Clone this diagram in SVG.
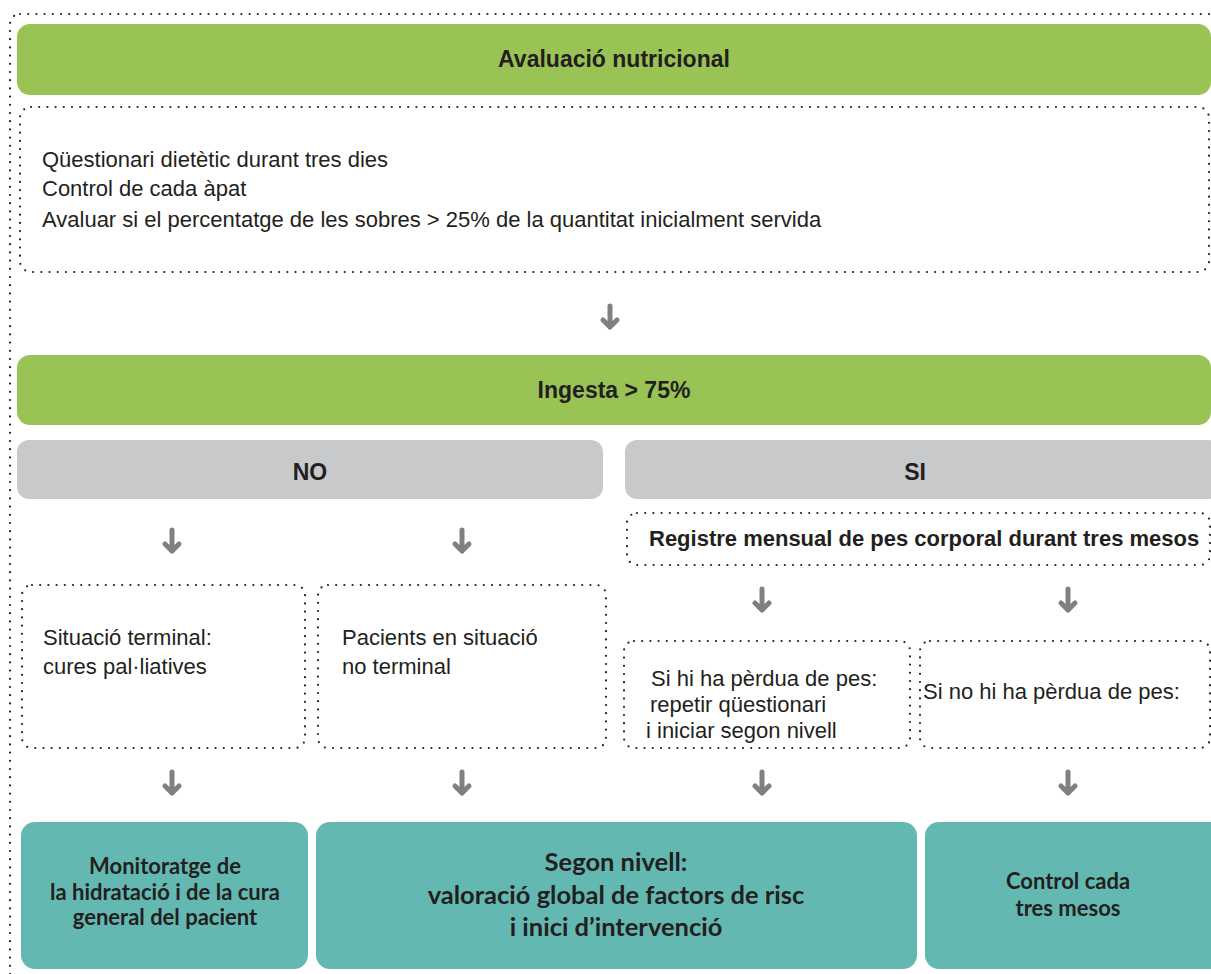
<svg xmlns="http://www.w3.org/2000/svg" width="1211" height="974" viewBox="0 0 1211 974">
<style>
.dot{fill:none;stroke:#231f20;stroke-width:2.2;stroke-dasharray:0 8.2;stroke-linecap:round}
.green{fill:#99c355}
.gray{fill:#c8c9cb}
.teal{fill:#63b8b2}
.t{font-family:"Liberation Sans",Arial,sans-serif;font-size:22px;fill:#231f20}
.b{font-family:"Liberation Sans",Arial,sans-serif;font-size:23px;font-weight:bold;fill:#231f20}
.r{font-family:Lato,"Liberation Sans",sans-serif;font-weight:bold;fill:#231f20;text-anchor:middle}
.arr{fill:none;stroke:#808080;stroke-width:5;stroke-linecap:round;stroke-linejoin:round}
</style>
<defs>
<g id="arrow"><path class="arr" d="M0,-11 V10 M-7,3 L0,10 L7,3"/></g>
</defs>
<rect width="1211" height="974" fill="#fff"/>
<g id="frame"><rect class="dot" x="10" y="14" width="1230" height="1000" rx="10"/></g>

<g id="n-avaluacio">
<rect class="green" x="17" y="24" width="1194" height="71" rx="13"/>
<text class="b" x="614" y="67" text-anchor="middle">Avaluació nutricional</text>
</g>
<g id="n-questionari">
<rect class="dot" x="20" y="107" width="1189" height="165" rx="11"/>
<text class="t" x="42" y="167">Qüestionari dietètic durant tres dies</text>
<text class="t" x="42" y="196">Control de cada àpat</text>
<text class="t" x="42" y="227">Avaluar si el percentatge de les sobres &gt; 25% de la quantitat inicialment servida</text>
</g>
<g id="n-ingesta">
<rect class="green" x="17" y="355" width="1194" height="70" rx="13"/>
<text class="b" x="614" y="398" text-anchor="middle">Ingesta &gt; 75%</text>
</g>
<g id="n-no">
<rect class="gray" x="17" y="440" width="586" height="59" rx="12"/>
<text class="b" x="310" y="480" text-anchor="middle">NO</text>
</g>
<g id="n-si">
<rect class="gray" x="625" y="440" width="596" height="59" rx="12"/>
<text class="b" x="915" y="480" text-anchor="middle">SI</text>
</g>
<g id="n-registre">
<rect class="dot" x="627" y="513" width="583" height="52" rx="10"/>
<text class="b" x="649" y="546" style="font-size:22px">Registre mensual de pes corporal durant tres mesos</text>
</g>
<g id="n-terminal">
<rect class="dot" x="22" y="585" width="283" height="163" rx="10"/>
<text class="t" x="43" y="645">Situació terminal:</text>
<text class="t" x="43" y="674">cures pal·liatives</text>
</g>
<g id="n-noterminal">
<rect class="dot" x="318" y="585" width="288" height="163" rx="10"/>
<text class="t" x="342" y="645">Pacients en situació</text>
<text class="t" x="342" y="674">no terminal</text>
</g>
<g id="n-perdua">
<rect class="dot" x="624" y="641" width="286" height="107" rx="10"/>
<text class="t" x="651" y="686">Si hi ha pèrdua de pes:</text>
<text class="t" x="650" y="712">repetir qüestionari</text>
<text class="t" x="646" y="738">i iniciar segon nivell</text>
</g>
<g id="n-noperdua">
<rect class="dot" x="920" y="641" width="290" height="107" rx="10"/>
<text class="t" x="923" y="699">Si no hi ha pèrdua de pes:</text>
</g>
<g id="n-monitoratge">
<rect class="teal" x="21" y="822" width="287" height="147" rx="14"/>
<text class="r" x="165" y="874" font-size="22">Monitoratge de</text>
<text class="r" x="165" y="900" font-size="22">la hidratació i de la cura</text>
<text class="r" x="165" y="925" font-size="22">general del pacient</text>
</g>
<g id="n-segon">
<rect class="teal" x="316" y="822" width="601" height="147" rx="14"/>
<text class="r" x="616" y="871" font-size="25.5">Segon nivell:</text>
<text class="r" x="616" y="904" font-size="25.5">valoració global de factors de risc</text>
<text class="r" x="616" y="936" font-size="25.5">i inici d’intervenció</text>
</g>
<g id="n-control">
<rect class="teal" x="925" y="822" width="300" height="147" rx="14"/>
<text class="r" x="1068" y="889" font-size="22">Control cada</text>
<text class="r" x="1068" y="916" font-size="22">tres mesos</text>
</g>

<g id="connectors">
<use href="#arrow" x="610" y="317"/>
<use href="#arrow" x="172" y="541"/>
<use href="#arrow" x="462" y="541"/>
<use href="#arrow" x="762" y="600"/>
<use href="#arrow" x="1068" y="600"/>
<use href="#arrow" x="172" y="783"/>
<use href="#arrow" x="462" y="783"/>
<use href="#arrow" x="762" y="783"/>
<use href="#arrow" x="1068" y="783"/>
</g>
</svg>
